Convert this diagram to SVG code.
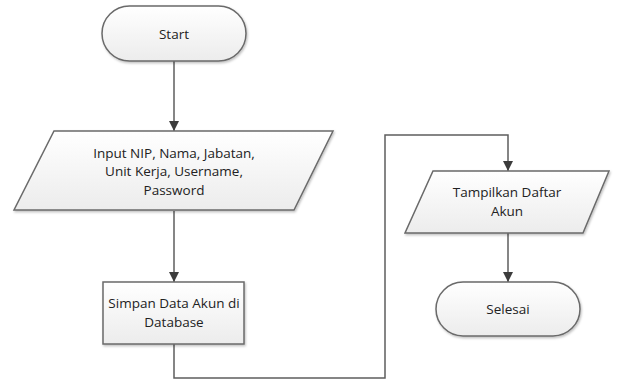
<svg xmlns="http://www.w3.org/2000/svg" width="619" height="381" viewBox="0 0 619 381">
<defs>
<linearGradient id="g" x1="0" y1="0" x2="0" y2="1">
<stop offset="0" stop-color="#ffffff"/>
<stop offset="1" stop-color="#ececec"/>
</linearGradient>
<filter id="sh" x="-10%" y="-10%" width="120%" height="130%">
<feDropShadow dx="1" dy="1.5" stdDeviation="1.2" flood-color="#000" flood-opacity="0.25"/>
</filter>
<marker id="ah" viewBox="0 0 10 10" refX="10" refY="5" markerWidth="10" markerHeight="10" markerUnits="userSpaceOnUse" orient="auto">
<path d="M0,0 L10,5 L0,10 z" fill="#3c3c3c"/>
</marker>
<style>
.shape{fill:url(#g);stroke:#6a6a6a;stroke-width:1.5;filter:url(#sh)}
.t{font-family:"Open Sans","DejaVu Sans",sans-serif;font-size:13.5px;fill:#222;text-anchor:middle}
.c{fill:none;stroke:#5e5e5e;stroke-width:1.5;marker-end:url(#ah)}
</style>
</defs>
<rect width="619" height="381" fill="#ffffff"/>
<g id="connectors">
<path class="c" d="M174,61 L174,131"/>
<path class="c" d="M174,211 L174,282"/>
<path class="c" d="M174,344 L174,378 L385,378 L385,135 L508,135 L508,171"/>
<path class="c" d="M508,233 L508,282"/>
</g>
<g id="start">
<rect class="shape" x="102" y="6" width="144" height="55" rx="27.5"/>
<text class="t" x="174" y="38.5">Start</text>
</g>
<g id="input">
<polygon class="shape" points="54,131 333,131 294,210 14,210"/>
<text class="t" x="174" y="157.5">Input NIP, Nama, Jabatan,</text>
<text class="t" x="174" y="176">Unit Kerja, Username,</text>
<text class="t" x="174" y="194.5">Password</text>
</g>
<g id="simpan">
<rect class="shape" x="103" y="282" width="141" height="62"/>
<text class="t" x="174" y="308">Simpan Data Akun di</text>
<text class="t" x="174" y="327">Database</text>
</g>
<g id="tampilkan">
<polygon class="shape" points="433,171 609,171 583,233 405,233"/>
<text class="t" x="507" y="197">Tampilkan Daftar</text>
<text class="t" x="507" y="215.5">Akun</text>
</g>
<g id="selesai">
<rect class="shape" x="436" y="282" width="144" height="54" rx="27"/>
<text class="t" x="508" y="313.5">Selesai</text>
</g>
</svg>
